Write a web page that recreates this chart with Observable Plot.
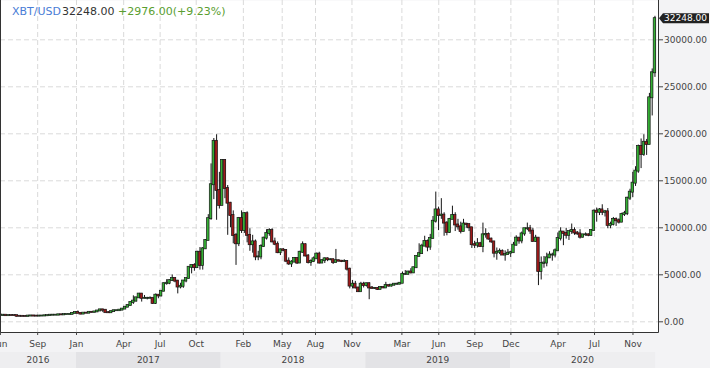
<!DOCTYPE html>
<html>
<head>
<meta charset="utf-8">
<script src="https://cdn.jsdelivr.net/npm/d3@7"></script>
<script src="https://cdn.jsdelivr.net/npm/@observablehq/plot@0.6"></script>
<style>
  html, body { margin: 0; padding: 0; background: #f3f3f5; }
</style>
</head>
<body>
<script>
// ---- data (weekly candles, weeks starting Sunday 2016-06-19) ----
const firstWeek = "2016-06-19";
const weekEnd = "2021-01-03";

const opens = [
  755,665,700,650,665,660,655,590,585,580,570,610,625,607,603,612,617,640,655,700,705,705,745,735,765,775,790,900,
  1000,900,820,920,915,1010,1000,1050,1150,1270,1230,970,960,1080,1180,1180,1240,1350,1550,1720,2050,2200,2550,2950,2500,2500,2500,2500,1950,2830,2750,3250,4050,4100,4380,4600,4330,3700,3780,4340,4600,5800,6000,5760,7400,6000,7760,8650,10970,14580,19200,13970,
  12380,17160,14180,12620,11300,9180,8300,10990,9700,11500,9200,8200,8500,6900,6900,8000,8900,9400,9700,8500,8250,7350,7650,7600,6450,6150,6350,6750,6250,7400,8200,7000,6300,6400,6700,7200,6250,6500,6700,6600,6600,6300,6500,6450,6400,6400,5600,3800,4000,3600,3200,4000,
  3850,4050,3600,3550,3550,3450,3650,3600,3850,3800,3900,4000,4000,4100,5050,5050,5300,5200,5750,6950,7250,8050,8550,7950,8850,10700,11900,11300,11350,10500,9500,10900,11300,10300,10100,9600,10400,10350,10000,8200,8150,8300,8000,9250,9300,8800,8500,7300,7400,7500,7100,7150,
  7300,7350,8150,8900,8600,9350,9900,9900,9650,8550,8900,5350,6200,6250,6800,7100,7100,7550,8850,9550,9400,9200,9600,9700,9450,9350,9000,9250,9250,9200,9700,11770,11650,11900,11650,11700,10250,10350,10900,10750,10600,11400,11500,13150,13790,14750,16030,18650,17800,19100,18860,23830,26490
];
const highs = [
  770,705,705,675,680,665,660,600,590,590,612,630,628,612,615,620,645,660,720,740,725,755,755,770,780,795,935,1000,
  1150,910,925,925,1030,1060,1060,1200,1290,1330,1250,1060,1100,1200,1210,1260,1350,1600,1800,2100,2760,2550,2980,2980,2800,2600,2650,2550,2950,2850,3300,4150,4480,4450,4980,4700,4400,4100,4400,4620,5860,6000,6180,7500,7900,7900,8750,11400,16800,19500,19900,15900,
  17250,17250,14500,12700,11800,9400,11100,11800,11600,11700,9900,9200,8700,7500,8200,9000,9800,9900,9900,8900,8500,7750,7800,7650,6800,6500,6800,6800,7500,8500,8300,7150,6600,6900,7300,7400,6600,6800,6800,6700,6700,7700,6550,6500,6600,6500,5700,4400,4300,3650,4200,4200,
  4100,4150,3750,3650,3600,3700,3700,4200,3900,3950,4000,4100,4150,5300,5450,5350,5650,5800,7000,8300,8250,9100,8700,9300,11200,13800,12200,13100,11600,10650,11000,12300,11600,10900,10600,10900,10450,10350,10050,8550,8850,8450,10500,9900,9450,8900,8500,7850,7750,7650,7550,7700,
  7500,8450,9150,8950,9550,9900,10500,10250,9950,9200,8900,6900,6950,7300,7450,7300,7750,9450,10000,9600,9950,9650,10400,10000,9600,9800,9300,9450,9350,9800,11900,12100,12050,12450,11850,12050,10600,11100,11050,10950,11550,11750,13250,14100,15900,16500,18800,19450,19900,19400,24300,26900,32500
];
const lows = [
  550,620,605,645,655,640,480,575,565,565,565,600,600,590,600,605,612,625,652,690,690,695,720,725,755,765,785,880,
  880,750,810,880,910,940,990,1040,1140,980,950,890,930,1060,1150,1170,1230,1340,1520,1700,1850,2100,2500,2100,2450,2330,2480,1840,1840,2450,2650,3200,3900,3950,4300,4150,2970,3500,3560,4150,4550,5100,5380,5700,5500,5500,7700,8650,10800,13000,10800,12000,
  12380,13100,9200,10000,8300,6000,8000,9400,9400,8400,7500,7300,6500,6500,6600,7900,8700,9100,8400,8100,7250,7050,7450,6300,6000,5780,6300,6100,6250,7300,6900,6150,5900,6300,6700,6150,6200,6200,6400,6500,6100,6300,6380,6300,6350,5400,3500,3500,3500,3150,3200,3600,
  3700,2350,3500,3450,3350,3400,3550,3600,3700,3700,3800,3900,3950,4100,4950,5000,5100,5150,5700,6900,7200,8000,7450,7600,8850,10500,9700,10900,9100,9150,9400,10900,9600,9750,9350,9600,9950,9600,7800,7800,7850,7900,7350,8900,8700,8350,6800,6550,7150,7050,6450,7100,
  6850,7350,8050,8250,8300,9100,9700,9300,8450,8450,3850,4450,5700,5850,6750,6450,6800,7500,8600,8100,8800,8650,9300,9200,9200,8800,8900,9100,9050,9100,9650,10600,11300,11300,11150,9900,9900,10200,10150,10400,10550,11200,11300,12900,13200,14400,15800,16300,17600,17700,18860,21900,26000
];
const closes = [
  665,700,650,665,660,655,590,585,580,570,610,625,607,603,612,617,640,655,700,705,705,745,735,765,775,790,900,1000,
  900,820,920,915,1010,1000,1050,1150,1270,1230,970,960,1080,1180,1180,1240,1350,1550,1720,2050,2200,2550,2950,2500,2500,2500,2500,1950,2830,2750,3250,4050,4100,4380,4600,4330,3700,3780,4340,4600,5800,6000,5760,7400,6000,7760,8650,10970,14580,19200,13970,12380,
  17160,14180,12620,11300,9180,8300,10990,9700,11500,9200,8200,8500,6900,6900,8000,8900,9400,9700,8500,8250,7350,7650,7600,6450,6150,6350,6750,6250,7400,8200,7000,6300,6400,6700,7200,6250,6500,6700,6600,6600,6300,6500,6450,6400,6400,5600,3800,4000,3600,3200,4000,3850,
  4050,3600,3550,3550,3450,3650,3600,3850,3800,3900,4000,4000,4100,5050,5050,5300,5200,5750,6950,7250,8050,8550,7950,8850,10700,11900,11300,11350,10500,9500,10900,11300,10300,10100,9600,10400,10350,10000,8200,8150,8300,8000,9250,9300,8800,8500,7300,7400,7500,7100,7150,7300,
  7350,8150,8900,8600,9350,9900,9900,9650,8550,8900,5350,6200,6250,6800,7100,7100,7550,8850,9550,9400,9200,9600,9700,9450,9350,9000,9250,9250,9200,9700,11770,11650,11900,11650,11700,10250,10350,10900,10750,10600,11400,11500,13150,13790,14750,16030,18650,17800,19100,18860,23830,26490,32248
];

const yTicks = [0, 5000, 10000, 15000, 20000, 25000, 30000];
const monthLabels = ["Jun","Sep","Jan","Apr","Jul","Oct","Feb","May","Aug","Nov","Mar","Jun","Sep","Dec","Apr","Jul","Nov"];
const monthTickDays = ["2016-06-23","2016-09-25","2017-01-01","2017-04-30","2017-07-31","2017-10-30","2018-02-26","2018-06-04","2018-08-27","2018-11-27","2019-04-02","2019-07-04","2019-10-03","2020-01-02","2020-04-30","2020-07-31","2020-11-05"];
const years = [2016, 2017, 2018, 2019, 2020];
const symbol = "XBT/USD";
const change = 2976.00;
const changePct = 9.23;

// ---- build ----
const weeks = d3.utcSunday.range(new Date(firstWeek), new Date(weekEnd));
const candles = weeks.map((w, i) => ({
  mid: d3.utcHour.offset(w, 84),
  left: d3.utcHour.offset(w, 84 - 76),
  right: d3.utcHour.offset(w, 84 + 76),
  open: opens[i], high: highs[i], low: lows[i], close: closes[i]
}));
const lastPrice = closes[closes.length - 1];
const tickDates = monthTickDays.map(d => new Date(d));
const labelOf = new Map(tickDates.map((d, i) => [+d, monthLabels[i]]));

const GREEN = "#34b034", RED = "#a01a1a", EDGE = "#151515";

function yearBand(index, scales, values, dimensions) {
  const x = scales.x;
  const r0 = dimensions.marginLeft, r1 = dimensions.width - dimensions.marginRight;
  const top = dimensions.height - 16;
  const g = d3.create("svg:g");
  years.forEach((yr, i) => {
    const a = Math.max(r0, x(new Date(Date.UTC(yr, 0, 1))));
    const b = Math.min(r1, x(new Date(Date.UTC(yr + 1, 0, 1))));
    g.append("rect").attr("x", a).attr("y", top).attr("width", b - a).attr("height", 16)
      .attr("fill", i % 2 ? "#e3e3e6" : "#eeeef0");
    g.append("text").attr("x", (a + b) / 2).attr("y", top + 11.3)
      .attr("text-anchor", "middle").attr("font-size", 9).attr("fill", "#444")
      .text(String(yr));
  });
  return g.node();
}

function frameLines(index, scales, values, dimensions) {
  const l = dimensions.marginLeft + 0.5;
  const r = dimensions.width - dimensions.marginRight + 0.5;
  const b = dimensions.height - dimensions.marginBottom + 0.5;
  const t = dimensions.marginTop;
  return d3.create("svg:path")
    .attr("d", `M${l},${t} V${b} H${r} V${t}`)
    .attr("fill", "none").attr("stroke", "#333").attr("stroke-width", 1).node();
}

function priceTag(index, scales, values, dimensions) {
  const y = scales.y(lastPrice);
  const xr = dimensions.width - dimensions.marginRight;
  const g = d3.create("svg:g");
  g.append("path")
    .attr("d", `M${xr + 1},${y} L${xr + 5},${y - 5} L${dimensions.width - 1},${y - 5} L${dimensions.width - 1},${y + 5} L${xr + 5},${y + 5} Z`)
    .attr("fill", "#222");
  g.append("text").attr("x", xr + 6).attr("y", y + 3.3).attr("text-anchor", "start")
    .attr("font-size", 9).attr("fill", "white").text(lastPrice.toFixed(2));
  return g.node();
}

function title() {
  const g = d3.create("svg:g").attr("font-size", 11).attr("text-anchor", "start");
  g.append("text").attr("x", 12).attr("y", 15).attr("fill", "#4a7dd6").text(symbol);
  g.append("text").attr("x", 62).attr("y", 15).attr("fill", "#333").text(lastPrice.toFixed(2));
  g.append("text").attr("x", 118).attr("y", 15).attr("fill", "#5a9e30")
    .text(`+${change.toFixed(2)}(+${changePct.toFixed(2)}%)`);
  return g.node();
}

const chart = Plot.plot({
  width: 710,
  height: 368,
  marginLeft: 0,
  marginRight: 52,
  marginTop: 0,
  marginBottom: 36,
  style: {background: "#f3f3f5", fontFamily: "DejaVu Sans", color: "#444", overflow: "visible"},
  x: {type: "utc", domain: [new Date("2016-06-23T06:00Z"), new Date("2021-01-08T10:00Z")], label: null},
  y: {domain: [-1138, 34181], label: null},
  marks: [
    Plot.frame({fill: "white", stroke: null}),
    Plot.gridY({ticks: yTicks, stroke: "#dadada", strokeOpacity: 1, strokeDasharray: "5,3"}),
    Plot.gridX({ticks: tickDates, stroke: "#dadada", strokeOpacity: 1, strokeDasharray: "5,3"}),
    Plot.ruleX(candles, {x: "mid", y1: "low", y2: "high", stroke: EDGE, strokeWidth: 1, clip: true}),
    Plot.rect(candles, {filter: d => d.close >= d.open, x1: "left", x2: "right", y1: "open", y2: "close",
      fill: GREEN, stroke: EDGE, strokeWidth: 0.7, insetTop: -0.5, insetBottom: -0.5, clip: true}),
    Plot.rect(candles, {filter: d => d.close < d.open, x1: "left", x2: "right", y1: "open", y2: "close",
      fill: RED, stroke: EDGE, strokeWidth: 0.7, insetTop: -0.5, insetBottom: -0.5, clip: true}),
    frameLines,
    Plot.axisY({anchor: "right", ticks: yTicks, tickFormat: d => d.toFixed(2), tickSize: 4, tickPadding: 1.5, fontSize: 9}),
    Plot.axisX({ticks: tickDates, tickFormat: d => labelOf.get(+d), tickSize: 3, tickPadding: 5, fontSize: 9}),
    yearBand,
    priceTag,
    title
  ]
});
document.body.append(chart);
</script>
</body>
</html>
